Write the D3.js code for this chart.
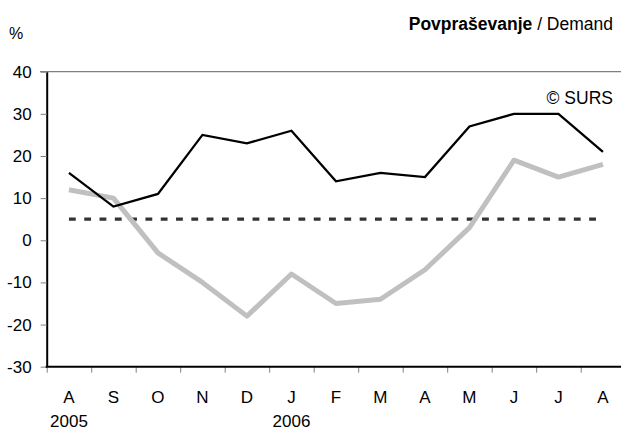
<!DOCTYPE html>
<html>
<head>
<meta charset="utf-8">
<script src="https://cdn.jsdelivr.net/npm/d3@7"></script>
<style>
  body { margin: 0; background: #fff; }
  svg { display: block; font-family: 'Liberation Sans', Arial, sans-serif; }
  .axis text { font-size: 17px; fill: #000; }
</style>
</head>
<body>
<div id="plot"></div>
<script>
var months = ['A', 'S', 'O', 'N', 'D', 'J', 'F', 'M', 'A', 'M', 'J', 'J', 'A']
var years = ['2005', '', '', '', '', '2006', '', '', '', '', '', '', '']
var demand = [16, 8, 11, 25, 23, 26, 14, 16, 15, 27, 30, 30, 21]
var demandGrey = [12, 10, -3, -10, -18, -8, -15, -14, -7, 3, 19, 15, 18]
var average = [5, 5, 5, 5, 5, 5, 5, 5, 5, 5, 5, 5, 5]
var yTicks = [-30, -20, -10, 0, 10, 20, 30, 40]

var width = 621
var height = 432
var plotLeft = 46.7
var step = 44.5
var plotTop = 71.7
var plotBottom = 366.7

var idx = d3.range(months.length)

var xScale = d3.scaleBand().domain(idx).range([plotLeft, plotLeft + step * months.length])
var xEdge = d3.scaleLinear().domain([0, months.length]).range([plotLeft, plotLeft + step * months.length])
var yScale = d3.scaleLinear().domain([-30, 40]).range([plotBottom, plotTop])

var svg = d3.select('#plot').append('svg')
  .attr('width', width)
  .attr('height', height)

// top border
svg.append('line')
  .attr('x1', 40).attr('x2', width)
  .attr('y1', yScale(40)).attr('y2', yScale(40))
  .style('stroke', '#808080').style('stroke-width', 1.2)

// y axis (plain hyphen for negatives, like the original)
var yAxis = svg.append('g')
  .attr('class', 'axis')
  .attr('transform', 'translate(' + plotLeft + ',0)')
  .call(d3.axisLeft(yScale).tickValues(yTicks).tickSize(6).tickPadding(9).tickSizeOuter(0)
    .tickFormat(function(d) { return String(d) }))
yAxis.select('.domain').style('stroke', '#000').style('stroke-width', 2)
yAxis.selectAll('.tick line').style('stroke', '#808080')

// x axis: boundary ticks
var xTicks = svg.append('g')
  .attr('transform', 'translate(0,' + plotBottom + ')')
  .call(d3.axisBottom(xEdge).tickValues(d3.range(months.length + 1)).tickSize(6).tickFormat('').tickSizeOuter(0))
xTicks.select('.domain').remove()
xTicks.selectAll('.tick line').style('stroke', '#808080')

// x axis: month labels
var xLabels = svg.append('g')
  .attr('class', 'axis')
  .attr('transform', 'translate(0,' + plotBottom + ')')
  .call(d3.axisBottom(xScale).tickSize(0).tickPadding(24).tickFormat(function(i) { return months[i] }))
xLabels.select('.domain').remove()

var yearLabels = svg.append('g')
  .attr('class', 'axis')
  .attr('transform', 'translate(0,' + plotBottom + ')')
  .call(d3.axisBottom(xScale).tickSize(0).tickPadding(48).tickFormat(function(i) { return years[i] }))
yearLabels.select('.domain').remove()

// x axis line
svg.append('line')
  .attr('x1', plotLeft - 1).attr('x2', width)
  .attr('y1', plotBottom).attr('y2', plotBottom)
  .style('stroke', '#000').style('stroke-width', 2)

function cx(d, i) { return xScale(i) + xScale.bandwidth() / 2 }
var plotLine = d3.line().x(cx).y(function(d) { return yScale(d) })

svg.append('path')
  .datum(average)
  .attr('d', plotLine)
  .style('fill', 'none')
  .style('stroke', '#333')
  .style('stroke-width', 3.3)
  .style('stroke-dasharray', '6.8,8.5')

svg.append('path')
  .datum(demandGrey)
  .attr('d', plotLine)
  .style('fill', 'none')
  .style('stroke', '#c0c0c0')
  .style('stroke-width', 5)
  .style('stroke-linejoin', 'round')

svg.append('path')
  .datum(demand)
  .attr('d', plotLine)
  .style('fill', 'none')
  .style('stroke', '#000')
  .style('stroke-width', 2.3)

// texts
svg.append('text')
  .attr('x', 16).attr('y', 39)
  .attr('text-anchor', 'middle')
  .style('font-size', '16px')
  .text('%')

var title = svg.append('text')
  .attr('x', 613).attr('y', 30)
  .attr('text-anchor', 'end')
  .style('font-size', '17.5px')
title.append('tspan').style('font-weight', 'bold').text('Povpraševanje')
title.append('tspan').text(' / Demand')

svg.append('text')
  .attr('x', 613).attr('y', 104)
  .attr('text-anchor', 'end')
  .style('font-size', '17.5px')
  .text('© SURS')
</script>
</body>
</html>
